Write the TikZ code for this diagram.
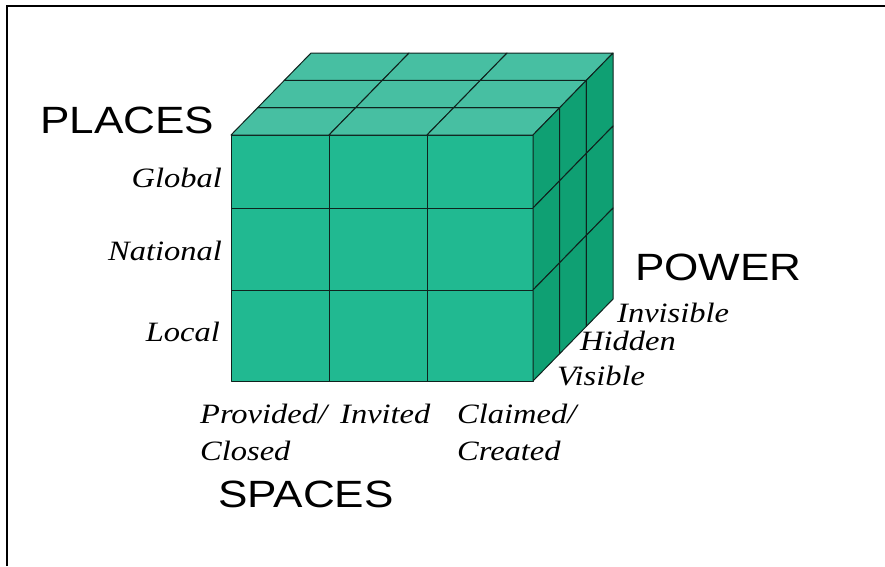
\documentclass[tikz,border=0pt]{standalone}
\usepackage{fontspec}
\newfontfamily\headfont[FakeStretch=1.16]{Liberation Sans}
\newfontfamily\itemfont[FakeStretch=1.16]{Liberation Serif}
\usetikzlibrary{positioning}

\definecolor{cubefront}{RGB}{33,185,145}
\definecolor{cubetop}{RGB}{71,191,162}
\definecolor{cubeside}{RGB}{15,160,115}
\definecolor{cubeedge}{RGB}{15,35,30}

\tikzset{
  head/.style={font=\headfont\fontsize{38}{38}\selectfont, inner sep=0pt},
  item/.style={font=\itemfont\itshape\fontsize{28}{28}\selectfont, inner sep=0pt},
  cell/.style={draw=cubeedge, line width=1pt, line join=round},
}

\begin{document}
\begin{tikzpicture}[x=1pt, y=-1pt]
  \useasboundingbox (0,0) rectangle (885,566);

  % frame
  \draw[line width=1.6pt] (7,566) -- (7,6) -- (885,6);

  \def\cx{{231,329,427,533}} % front columns
  \def\ry{{135,208,290,381}} % front rows
  \def\dx{26.67} \def\dy{-27.33} % one layer back

  % front face
  \foreach \i in {0,1,2}
  \foreach \j in {0,1,2}{
    \pgfmathsetmacro{\xa}{\cx[\i]} \pgfmathsetmacro{\xb}{\cx[\i+1]}
    \pgfmathsetmacro{\ya}{\ry[\j]} \pgfmathsetmacro{\yb}{\ry[\j+1]}
    \draw[cell, fill=cubefront] (\xa,\ya) rectangle (\xb,\yb);
  }

  % top face
  \foreach \i in {0,1,2}
  \foreach \k in {0,1,2}{
    \pgfmathsetmacro{\xa}{\cx[\i]} \pgfmathsetmacro{\xb}{\cx[\i+1]}
    \draw[cell, fill=cubetop] (\xa+\k*\dx, 135+\k*\dy) -- (\xb+\k*\dx, 135+\k*\dy)
      -- (\xb+\k*\dx+\dx, 135+\k*\dy+\dy) -- (\xa+\k*\dx+\dx, 135+\k*\dy+\dy) -- cycle;
  }

  % right face
  \foreach \j in {0,1,2}
  \foreach \k in {0,1,2}{
    \pgfmathsetmacro{\ya}{\ry[\j]} \pgfmathsetmacro{\yb}{\ry[\j+1]}
    \draw[cell, fill=cubeside] (533+\k*\dx, \ya+\k*\dy) -- (533+\k*\dx+\dx, \ya+\k*\dy+\dy)
      -- (533+\k*\dx+\dx, \yb+\k*\dy+\dy) -- (533+\k*\dx, \yb+\k*\dy) -- cycle;
  }

  % axis names
  \node[head, anchor=base west] (places) at (40,133) {PLACES};
  \node[head, anchor=base west] (power) at (635,280) {POWER};
  \node[head, anchor=base west] (spaces) at (218,507) {SPACES};

  % places
  \node[item, anchor=base east] (global) at (222,187) {Global};
  \node[item, anchor=base east] (national) at (222,260) {National};
  \node[item, anchor=base east] (local) at (220,341) {Local};

  % spaces
  \node[item, anchor=base west] (provided) at (200,423) {Provided/};
  \node[item, anchor=base west] (invited) at (340,423) {Invited};
  \node[item, anchor=base west] (claimed) at (457,423) {Claimed/};
  \node[item, anchor=base west] (closed) at (200,460) {Closed};
  \node[item, anchor=base west] (created) at (457,460) {Created};

  % power
  \node[item, anchor=base west] (invisible) at (617,322) {Invisible};
  \node[item, anchor=base west] (hidden) at (580,350) {Hidden};
  \node[item, anchor=base west] (visible) at (557,385) {Visible};
\end{tikzpicture}
\end{document}
